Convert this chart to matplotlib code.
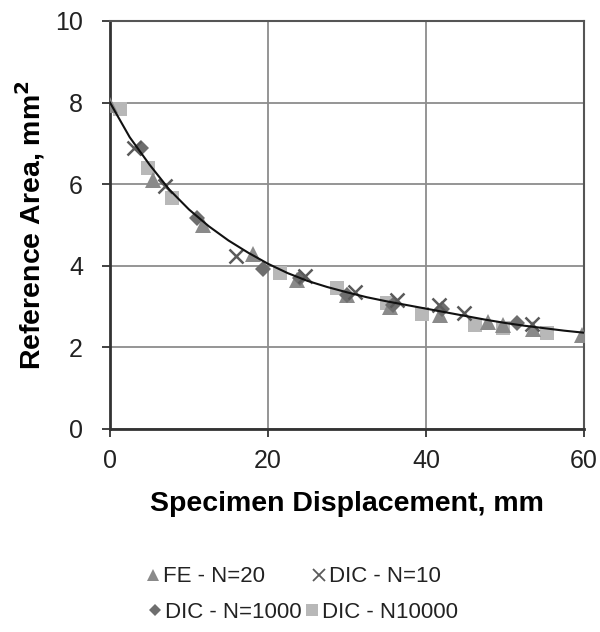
import matplotlib
matplotlib.use("Agg")
import matplotlib.pyplot as plt
from matplotlib.lines import Line2D

plt.rcParams['font.family'] = ['Liberation Sans', 'DejaVu Sans']

# FE - N=20
fe_x = [0, 5.4, 11.8, 18.1, 23.7, 30.0, 35.4, 41.8, 47.9, 49.8, 53.6, 59.7]
fe_y = [7.95, 6.1, 5.0, 4.3, 3.65, 3.28, 3.0, 2.8, 2.62, 2.56, 2.45, 2.3]
# DIC - N=10
d10_x = [3.0, 7.0, 16.0, 24.7, 31.0, 36.3, 41.6, 44.8, 53.4]
d10_y = [6.88, 5.95, 4.23, 3.74, 3.35, 3.15, 3.03, 2.84, 2.58]
# DIC - N=1000
d1k_x = [3.9, 11.0, 19.4, 24.0, 30.0, 35.8, 42.0, 51.5]
d1k_y = [6.88, 5.18, 3.92, 3.7, 3.28, 3.03, 2.95, 2.6]
# DIC - N10000
d10k_x = [1.3, 4.8, 7.9, 21.5, 28.7, 35.0, 39.5, 46.2, 49.8, 55.3]
d10k_y = [7.85, 6.4, 5.65, 3.82, 3.45, 3.08, 2.82, 2.56, 2.48, 2.35]
# trend line
fit_x = [0, 2.5, 5, 7.5, 10, 12.5, 15, 17.5, 20, 22.5, 25, 27.5, 30, 32.5, 35,
         37.5, 40, 42.5, 45, 47.5, 50, 52.5, 55, 57.5, 60]
fit_y = [8.0, 7.15, 6.48, 5.87, 5.38, 4.97, 4.62, 4.32, 4.05, 3.82, 3.63, 3.48,
         3.35, 3.23, 3.13, 3.04, 2.95, 2.86, 2.77, 2.68, 2.6, 2.53, 2.47, 2.41, 2.36]

xticks = [0, 20, 40, 60]
yticks = [0, 2, 4, 6, 8, 10]

fig = plt.figure(figsize=(6.0, 6.32), dpi=100)
ax = fig.add_axes([110/600, 1-429/632, 474/600, 408/632])

c_fe = '#8a8a8a'
c_d10 = '#5a5a5a'
c_d1k = '#6e6e6e'
c_d10k = '#b8b8b8'

ax.plot(d10k_x, d10k_y, 's', color=c_d10k, ms=10, mew=0, zorder=3)
ax.plot(fe_x, fe_y, '^', color=c_fe, ms=11, mew=0, zorder=3)
ax.plot(d1k_x, d1k_y, 'D', color=c_d1k, ms=8, mew=0, zorder=3)
ax.plot(d10_x, d10_y, 'x', color=c_d10, ms=10, mew=1.8, zorder=3)
ax.plot(fit_x, fit_y, '-', color='#111111', lw=1.5, zorder=4)

ax.set_xlim(0, 60)
ax.set_ylim(0, 10)
ax.set_xticks(xticks)
ax.set_yticks(yticks)
ax.grid(True, color='#8c8c8c', lw=1.3)
ax.set_axisbelow(True)
for s in ['top', 'right']:
    ax.spines[s].set_color('#555555')
    ax.spines[s].set_linewidth(1.5)
for s in ['left', 'bottom']:
    ax.spines[s].set_color('#333333')
    ax.spines[s].set_linewidth(2)
ax.tick_params(axis='both', direction='out', length=6, width=1.3, color='#333333',
               labelsize=18, labelcolor='#222222')
ax.tick_params(axis='x', pad=8.5)
ax.tick_params(axis='y', pad=13.5)

ax.set_xlabel('Specimen Displacement, mm', fontsize=20.5, fontweight='bold', labelpad=13)
ax.set_ylabel('Reference Area, mm$^\\mathbf{2}$', fontsize=20.5, fontweight='bold', labelpad=6)

h_fe = Line2D([], [], ls='none', marker='^', color=c_fe, ms=8, mew=0)
h_d10 = Line2D([], [], ls='none', marker='x', color=c_d10, ms=8, mew=1.3)
h_d1k = Line2D([], [], ls='none', marker='D', color=c_d1k, ms=6, mew=0)
h_d10k = Line2D([], [], ls='none', marker='s', color=c_d10k, ms=8, mew=0)

kw = dict(frameon=False, fontsize=16, ncol=2, handlelength=0.5, handletextpad=0.2,
          loc='center', labelcolor='#222222')
fig.legend([h_fe, h_d10], ['FE - N=20', 'DIC - N=10'], columnspacing=2.2,
           bbox_to_anchor=(294/600, 1-577/632), **kw)
fig.legend([h_d1k, h_d10k], ['DIC - N=1000', 'DIC - N10000'], columnspacing=0.2,
           bbox_to_anchor=(304/600, 1-612/632), **kw)

fig.savefig('out.png', dpi=100)
